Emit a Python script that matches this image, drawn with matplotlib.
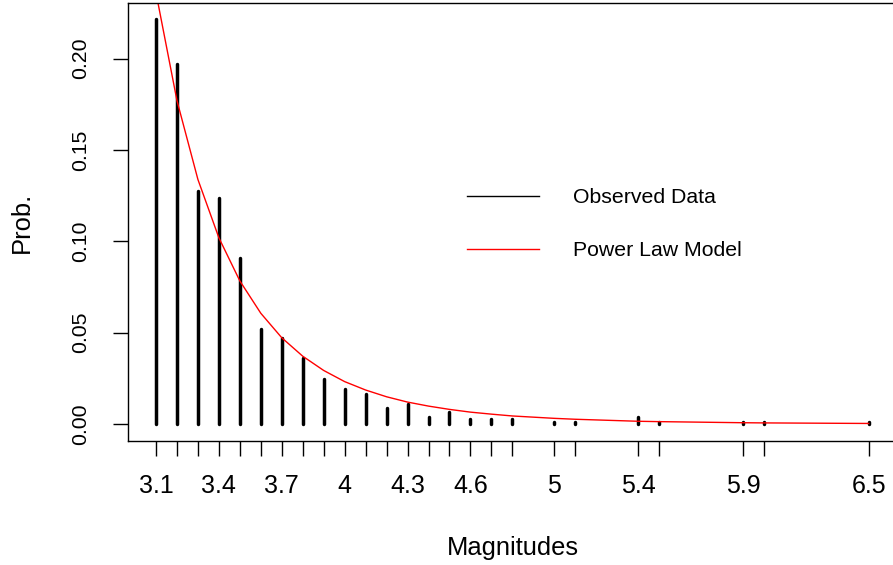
import matplotlib
matplotlib.use("Agg")
import matplotlib.pyplot as plt
from matplotlib.lines import Line2D

# Data
magnitudes = [3.1, 3.2, 3.3, 3.4, 3.5, 3.6, 3.7, 3.8, 3.9, 4.0, 4.1, 4.2, 4.3,
              4.4, 4.5, 4.6, 4.7, 4.8, 5.0, 5.1, 5.4, 5.5, 5.9, 6.0, 6.5]
observed = [0.2216, 0.1970, 0.1275, 0.1237, 0.0908, 0.0520, 0.0470, 0.0360,
            0.0246, 0.0192, 0.0164, 0.0088, 0.0110, 0.0040, 0.0064, 0.0026,
            0.0026, 0.0026, 0.0013, 0.0013, 0.0040, 0.0013, 0.0013, 0.0013,
            0.0013]
model = [0.2360, 0.1770, 0.1338, 0.1019, 0.0783, 0.0606, 0.0472, 0.0371,
         0.0293, 0.0232, 0.0186, 0.0149, 0.0120, 0.0098, 0.0080, 0.0065,
         0.0054, 0.0044, 0.0031, 0.0026, 0.0015, 0.0013, 0.0007, 0.0006,
         0.0003]
xtick_labels_shown = ["3.1", "3.4", "3.7", "4", "4.3", "4.6", "5", "5.4", "5.9", "6.5"]
yticks = [0.00, 0.05, 0.10, 0.15, 0.20]
legend_labels = ["Observed Data", "Power Law Model"]

plt.rcParams['font.family'] = ['Liberation Sans', 'DejaVu Sans']
fs = 15.3
fs_lab = 18.4
fs_xtick = 18.0

W, H = 893, 565
fig = plt.figure(figsize=(W / 100, H / 100), dpi=100)
left_px, right_px, top_px, bottom_px = 128, 897, 3, 441
ax = fig.add_axes([left_px / W, (H - bottom_px) / H,
                   (right_px - left_px) / W, (bottom_px - top_px) / H])

ax.vlines(magnitudes, 0, observed, colors='black', linewidth=2.5,
          capstyle='round')
ax.plot(magnitudes, model, color='red', linewidth=1.0)

ax.set_xlim(2.9664, 6.635)
ax.set_ylim(-0.0093, 0.2304)

# ticks at every magnitude, labels only where they fit
labels = []
for m in magnitudes:
    s = ("%g" % m)
    labels.append(s if s in xtick_labels_shown else "")
ax.set_xticks(magnitudes)
ax.set_xticklabels(labels, fontsize=fs_xtick)
ax.set_yticks(yticks)
ax.set_yticklabels(["%.2f" % v for v in yticks], fontsize=fs, rotation=90,
                   va='center')

ax.tick_params(axis='both', direction='out', length=11, width=1.0,
               colors='black')
ax.tick_params(axis='x', pad=13)
ax.tick_params(axis='y', pad=16)

for sp in ['left', 'top', 'bottom']:
    ax.spines[sp].set_linewidth(1.0)
ax.spines['right'].set_visible(False)

ax.set_xlabel("Magnitudes", fontsize=fs_lab, labelpad=27)
ax.set_ylabel("Prob.", fontsize=fs_lab, labelpad=27)

handles = [Line2D([], [], color='black', linewidth=1.0),
           Line2D([], [], color='red', linewidth=1.0)]
ax.legend(handles, legend_labels, loc='upper left',
          bbox_to_anchor=((467 - left_px) / (right_px - left_px),
                          (bottom_px - 188) / (bottom_px - top_px)),
          frameon=False, fontsize=fs, handlelength=3.4, handletextpad=1.6,
          labelspacing=1.62, borderpad=0, borderaxespad=0)

fig.savefig("out.png", dpi=100)
